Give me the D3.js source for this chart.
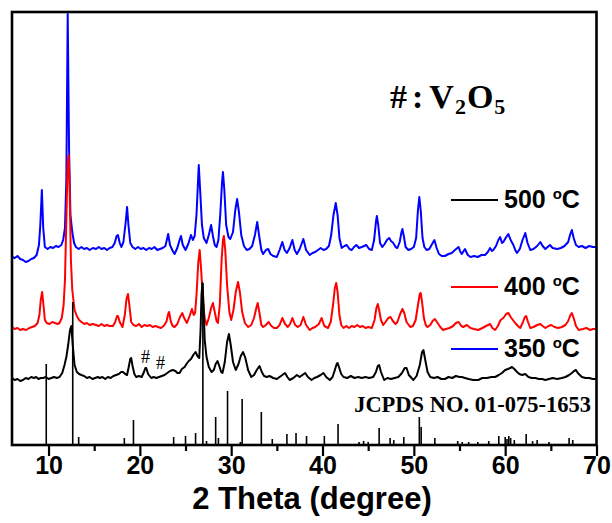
<!DOCTYPE html>
<html>
<head>
<meta charset="utf-8">
<script src="https://cdn.jsdelivr.net/npm/d3@7"></script>
<style>
  body { margin: 0; background: #fff; }
  svg { display: block; }
</style>
</head>
<body>
<div id="xrd-chart"></div>
<script>
// XRD patterns, [2theta, intensity (a.u., already offset)]
const pattern500 = [
  [6.0,188],[6.3,187],[6.6,189],[6.9,186],[7.2,185],[7.5,183],[7.8,184],[8.1,186],[8.4,187],[8.7,190],
  [8.95,200],[9.1,220],[9.27,255],[9.42,217],[9.6,198],[9.9,196],[10.2,198],[10.5,197],[10.8,199],[11.1,198],
  [11.4,200],[11.6,205],[11.8,217],[11.95,265],[12.1,431],[12.25,295],[12.4,230],[12.6,213],[12.8,202],[13.0,198],
  [13.3,196],[13.6,198],[13.9,196],[14.2,197],[14.5,195],[14.85,197],[15.2,196],[15.5,198],[15.8,196],[16.1,197],
  [16.4,195],[16.7,197],[17.0,198],[17.25,202],[17.45,209],[17.6,210],[17.8,202],[17.97,198],[18.2,203],[18.45,223],
  [18.6,238],[18.75,220],[18.95,202],[19.2,198],[19.5,196],[19.8,198],[20.1,196],[20.4,197],[20.7,195],[21.0,197],
  [21.3,196],[21.6,198],[21.9,195],[22.2,196],[22.5,197],[22.8,199],[23.0,207],[23.1,211],[23.3,200],[23.6,194],
  [23.8,191],[24.1,197],[24.35,205],[24.5,209],[24.7,200],[25.0,195],[25.3,201],[25.6,210],[25.8,205],[26.0,209],
  [26.2,230],[26.35,260],[26.45,280],[26.6,255],[26.8,220],[27.0,207],[27.3,202],[27.55,210],[27.8,220],[28.0,209],
  [28.2,200],[28.4,198],[28.6,205],[28.8,230],[29.0,263],[29.1,273],[29.25,255],[29.45,220],[29.7,208],[29.9,206],
  [30.2,213],[30.45,235],[30.65,246],[30.85,233],[31.1,210],[31.4,199],[31.7,195],[32.0,196],[32.3,199],[32.6,210],
  [32.85,223],[33.05,210],[33.3,195],[33.5,191],[33.8,195],[34.05,196],[34.3,191],[34.6,189],[35.0,188],[35.3,195],
  [35.6,203],[35.85,195],[36.1,192],[36.4,197],[36.7,205],[36.95,195],[37.2,191],[37.5,196],[37.9,206],[38.2,195],
  [38.6,190],[38.9,192],[39.2,193],[39.5,195],[39.8,197],[40.1,195],[40.4,196],[40.7,199],[40.95,210],[41.2,230],
  [41.45,242],[41.65,230],[41.85,207],[42.1,197],[42.4,199],[42.65,200],[42.95,196],[43.2,195],[43.45,198],[43.7,200],
  [44.0,197],[44.3,198],[44.55,199],[44.8,200],[45.1,196],[45.4,195],[45.65,205],[45.85,223],[45.95,229],[46.1,220],
  [46.3,202],[46.55,198],[46.8,201],[47.05,205],[47.3,207],[47.5,204],[47.75,202],[48.0,198],[48.2,197],[48.45,203],
  [48.65,213],[48.75,216],[48.9,209],[49.1,198],[49.4,195],[49.7,196],[50.0,198],[50.25,207],[50.45,235],[50.6,248],
  [50.75,235],[50.95,207],[51.15,198],[51.4,195],[51.7,196],[52.0,201],[52.25,205],[52.5,197],[52.75,191],[53.05,189],
  [53.4,189],[53.8,191],[54.15,192],[54.5,195],[54.9,198],[55.1,193],[55.25,191],[55.45,194],[55.6,196],[55.9,190],
  [56.2,188],[56.6,189],[57.0,188],[57.4,190],[57.8,190],[58.1,193],[58.35,197],[58.55,194],[58.7,195],[59.0,199],
  [59.25,205],[59.45,208],[59.65,202],[59.8,203],[60.05,207],[60.35,211],[60.6,205],[60.9,200],[61.1,195],[61.3,192],
  [61.6,196],[61.9,205],[62.2,212],[62.45,202],[62.75,195],[63.1,196],[63.5,199],[63.85,203],[64.1,199],[64.4,196],
  [64.65,198],[64.9,200],[65.2,197],[65.7,196],[66.1,197],[66.5,199],[66.9,203],[67.1,210],[67.3,215],[67.5,207],
  [67.75,200],[68.05,198],[68.4,199],[68.8,197],[69.2,199],[69.6,198],[70.0,198]
];

const pattern400 = [
  [6.0,118],[6.3,116],[6.6,117],[6.9,115],[7.2,116],[7.55,115],[7.9,117],[8.2,118],[8.5,119],[8.8,122],
  [9.0,130],[9.15,145],[9.3,153],[9.45,140],[9.6,125],[9.8,122],[10.1,121],[10.4,123],[10.7,122],[11.0,121],
  [11.2,122],[11.45,127],[11.65,140],[11.8,165],[11.95,225],[12.1,285],[12.2,290],[12.3,260],[12.45,185],[12.6,155],
  [12.85,135],[13.1,129],[13.35,125],[13.6,123],[13.9,121],[14.2,122],[14.5,120],[14.85,121],[15.2,120],[15.5,119],
  [15.8,121],[16.1,119],[16.4,120],[16.7,119],[17.05,119],[17.3,123],[17.5,129],[17.6,129],[17.8,123],[18.1,118],
  [18.35,130],[18.55,147],[18.7,151],[18.85,140],[19.05,123],[19.3,120],[19.6,119],[19.9,121],[20.2,118],[20.5,120],
  [20.8,119],[21.1,120],[21.4,118],[21.7,119],[22.0,118],[22.3,117],[22.6,119],[22.9,123],[23.1,131],[23.2,133],
  [23.4,123],[23.6,119],[23.8,118],[24.1,121],[24.4,128],[24.65,132],[24.85,127],[25.15,122],[25.45,129],[25.7,136],
  [25.9,130],[26.05,132],[26.2,150],[26.4,183],[26.55,195],[26.7,177],[26.9,145],[27.1,127],[27.3,120],[27.55,127],
  [27.8,137],[28.0,142],[28.2,133],[28.4,124],[28.55,122],[28.75,140],[28.95,185],[29.1,205],[29.2,209],[29.35,195],
  [29.55,160],[29.8,133],[30.0,125],[30.25,135],[30.5,153],[30.75,163],[30.95,153],[31.2,133],[31.5,122],[31.85,118],
  [32.2,120],[32.5,127],[32.75,137],[32.9,142],[33.1,132],[33.3,120],[33.5,118],[33.8,120],[34.1,123],[34.4,119],
  [34.7,117],[35.0,117],[35.3,120],[35.6,127],[35.9,121],[36.2,118],[36.45,121],[36.7,127],[37.0,120],[37.3,118],
  [37.6,120],[37.9,128],[38.2,120],[38.6,115],[38.9,117],[39.2,118],[39.6,121],[39.9,127],[40.2,119],[40.6,117],
  [40.9,123],[41.15,140],[41.35,157],[41.5,162],[41.65,153],[41.85,130],[42.05,120],[42.3,117],[42.6,119],[42.9,117],
  [43.2,119],[43.5,118],[43.8,120],[44.1,118],[44.4,119],[44.7,117],[45.0,118],[45.4,117],[45.7,125],[45.9,137],
  [46.05,141],[46.2,135],[46.4,125],[46.65,120],[46.9,123],[47.2,127],[47.45,128],[47.7,124],[48.0,121],[48.2,123],
  [48.5,131],[48.75,136],[48.95,132],[49.2,123],[49.6,118],[49.9,119],[50.2,125],[50.45,140],[50.65,151],[50.75,152],
  [50.9,143],[51.1,127],[51.3,120],[51.5,118],[51.8,120],[52.05,124],[52.3,126],[52.6,122],[52.9,118],[53.2,115],
  [53.5,116],[53.9,117],[54.3,119],[54.6,122],[54.9,123],[55.2,119],[55.4,118],[55.8,120],[56.2,117],[56.6,116],
  [57.05,115],[57.5,117],[57.9,119],[58.35,121],[58.6,117],[58.9,115],[59.2,119],[59.5,125],[59.8,127],[60.1,131],
  [60.35,132],[60.6,128],[60.85,125],[61.1,122],[61.4,119],[61.65,117],[61.95,123],[62.15,128],[62.3,129],[62.5,123],
  [62.75,117],[63.1,118],[63.5,120],[63.85,121],[64.1,119],[64.4,117],[64.75,119],[65.05,120],[65.4,118],[65.8,117],
  [66.2,118],[66.6,120],[66.9,124],[67.1,129],[67.3,132],[67.5,127],[67.75,119],[68.05,115],[68.5,116],[68.9,117],
  [69.3,115],[69.6,116],[70.0,116]
];

const pattern350 = [
  [6.0,67],[6.3,65],[6.6,66],[6.9,64],[7.2,65],[7.5,67],[7.8,66],[8.1,68],[8.4,67],[8.65,68],
  [8.9,66],[9.15,67],[9.4,67],[9.7,68],[10.0,66],[10.3,67],[10.6,68],[10.9,67],[11.2,68],[11.5,72],
  [11.75,80],[11.95,88],[12.15,100],[12.35,115],[12.5,119],[12.65,100],[12.85,80],[13.1,73],[13.35,71],[13.6,70],
  [13.9,69],[14.2,67],[14.5,68],[14.8,66],[15.1,67],[15.4,68],[15.6,67],[15.9,68],[16.2,66],[16.5,68],
  [16.8,67],[17.1,69],[17.4,70],[17.7,71],[17.95,73],[18.15,73],[18.4,71],[18.6,70],[18.8,79],[18.95,86],
  [19.05,87],[19.2,79],[19.4,71],[19.6,68],[19.9,69],[20.2,68],[20.45,73],[20.6,77],[20.7,77],[20.9,71],
  [21.25,67],[21.5,68],[21.8,67],[22.1,68],[22.4,69],[22.7,70],[23.0,72],[23.3,74],[23.6,75],[23.9,74],
  [24.1,72],[24.35,72],[24.6,76],[24.9,78],[25.1,81],[25.35,84],[25.6,86],[25.85,90],[26.1,93],[26.3,89],
  [26.5,87],[26.65,115],[26.75,150],[26.85,162],[26.95,145],[27.1,105],[27.3,88],[27.55,78],[27.85,73],[28.1,75],
  [28.3,81],[28.5,84],[28.7,79],[28.9,73],[29.05,72],[29.3,83],[29.55,103],[29.75,111],[29.95,100],[30.2,83],
  [30.5,75],[30.8,81],[31.05,89],[31.3,93],[31.55,87],[31.85,75],[32.2,68],[32.5,70],[32.8,75],[33.1,79],
  [33.35,73],[33.6,69],[33.9,68],[34.2,69],[34.6,67],[35.0,66],[35.3,68],[35.6,70],[35.9,72],[36.15,68],
  [36.4,65],[36.8,67],[37.2,70],[37.5,68],[37.8,70],[38.1,72],[38.4,68],[38.8,65],[39.1,67],[39.4,68],
  [39.8,70],[40.1,72],[40.4,68],[40.8,65],[41.1,68],[41.35,75],[41.55,81],[41.65,82],[41.8,78],[42.05,71],
  [42.3,68],[42.7,67],[43.1,69],[43.5,67],[43.9,68],[44.3,67],[44.7,68],[45.1,67],[45.55,68],[45.85,73],
  [46.05,79],[46.2,80],[46.4,73],[46.75,65],[47.1,67],[47.5,66],[47.9,67],[48.3,68],[48.7,72],[49.0,77],
  [49.2,77],[49.45,70],[49.95,65],[50.3,69],[50.65,80],[50.9,93],[51.05,95],[51.25,85],[51.5,73],[51.8,68],
  [52.2,67],[52.6,68],[53.0,66],[53.4,66],[53.8,68],[54.2,67],[54.6,69],[55.0,68],[55.25,68],[55.6,67],
  [56.0,66],[56.5,65],[57.05,65],[57.5,67],[58.0,67],[58.5,68],[58.9,68],[59.3,70],[59.65,72],[60.0,75],
  [60.3,76],[60.55,77],[60.75,78],[61.0,76],[61.3,73],[61.55,71],[61.85,70],[62.2,71],[62.55,68],[62.9,67],
  [63.3,67],[63.7,66],[64.05,66],[64.4,65],[64.8,66],[65.2,67],[65.7,66],[66.2,67],[66.6,68],[67.0,70],
  [67.3,72],[67.55,74],[67.75,75],[67.95,72],[68.4,68],[68.8,67],[69.2,67],[69.6,66],[70.0,66]
];

// JCPDS 01-075-1653 reference lines, [2theta, relative intensity]
const referenceLines = [
  [9.75,81],[12.65,143],[13.3,8],[18.3,7],[19.3,25],[23.7,8],[25.0,9],[26.1,12],[26.9,162],[27.3,4],
  [28.3,28],[28.6,7],[29.6,54],[31.0,3],[31.2,46],[33.3,33],[34.5,6],[36.1,11],[37.1,12],[38.25,9],
  [40.2,9],[41.7,21],[44.0,3],[44.5,4],[45.0,3],[46.2,17],[47.4,7],[47.8,5],[48.9,8],[50.6,28],
  [50.8,18],[52.3,7],[54.8,4],[55.3,3],[56.0,3],[57.0,3],[58.2,4],[59.3,9],[60.0,8],[60.2,6],
  [60.4,9],[60.6,7],[61.0,5],[62.3,11],[63.0,4],[63.5,5],[64.8,3],[67.0,7],[67.4,5]
];

const majorTicks = [10, 20, 30, 40, 50, 60, 70];
const minorTicks = [15, 25, 35, 45, 55, 65];

// legend as printed in the figure (line colours kept as in the original)
const legendLabels = ["500", "400", "350"];
const legendColours = ["#000000", "#ff0000", "#0000ff"];

const drawChart = () => {

  /*******************************/
  /*    Declare the constants    */
  /*******************************/
  const width = 612;
  const height = 523;
  const plot = {left: 12, right: 596.5, top: 12, bottom: 445};
  const sansFont = "'Liberation Sans', Arial, sans-serif";
  const serifFont = "'Liberation Serif', 'Times New Roman', serif";

  const svg = d3.select("#xrd-chart")
    .append("svg")
      .attr("width", width)
      .attr("height", height)
      .attr("viewBox", `0, 0, ${width}, ${height}`);

  /****************************/
  /*    Declare the scales    */
  /****************************/
  const xScale = d3.scaleLinear()
    .domain([6, 70])
    .range([plot.left, plot.right]);

  const yScale = d3.scaleLinear()
    .domain([0, 433])
    .range([plot.bottom, plot.top]);

  /****************************/
  /*    Patterns and sticks   */
  /****************************/
  const lineGenerator = d3.line()
    .x(d => xScale(d[0]))
    .y(d => yScale(d[1]));

  const series = [
    {data: pattern500, colour: "#0000ff"},
    {data: pattern400, colour: "#ff0000"},
    {data: pattern350, colour: "#000000"}
  ];

  svg.selectAll(".pattern")
    .data(series)
    .join("path")
      .attr("class", "pattern")
      .attr("d", d => lineGenerator(d.data))
      .attr("fill", "none")
      .attr("stroke", d => d.colour)
      .attr("stroke-width", 2)
      .attr("stroke-linejoin", "round");

  svg.selectAll(".stick")
    .data(referenceLines)
    .join("line")
      .attr("class", "stick")
      .attr("x1", d => xScale(d[0]))
      .attr("x2", d => xScale(d[0]))
      .attr("y1", yScale(0))
      .attr("y2", d => yScale(d[1]))
      .attr("stroke", "#000")
      .attr("stroke-width", 1.6);

  /***************************/
  /*     Frame and axes      */
  /***************************/
  svg.append("rect")
    .attr("x", plot.left)
    .attr("y", plot.top)
    .attr("width", plot.right - plot.left)
    .attr("height", plot.bottom - plot.top)
    .attr("fill", "none")
    .attr("stroke", "#000")
    .attr("stroke-width", 2.6);

  const bottomAxis = d3.axisBottom(xScale)
    .tickValues(majorTicks)
    .tickSize(11)
    .tickPadding(2);
  const axisX = svg.append("g")
    .attr("class", "axis-x")
    .attr("transform", `translate(0, ${plot.bottom})`)
    .call(bottomAxis);
  axisX.select(".domain").remove();
  axisX.selectAll("line").attr("stroke-width", 2.2);
  axisX.selectAll("text")
    .attr("y", 11)
    .style("font-family", sansFont)
    .style("font-weight", "bold")
    .style("font-size", "25px")
    .attr("fill", "#000");

  const minorAxis = d3.axisBottom(xScale)
    .tickValues(minorTicks)
    .tickSize(6)
    .tickFormat("");
  const axisMinor = svg.append("g")
    .attr("transform", `translate(0, ${plot.bottom})`)
    .call(minorAxis);
  axisMinor.select(".domain").remove();
  axisMinor.selectAll("line").attr("stroke-width", 2.2);

  svg.append("text")
    .text("2 Theta (degree)")
    .attr("x", 312)
    .attr("y", 509)
    .attr("text-anchor", "middle")
    .style("font-family", sansFont)
    .style("font-weight", "bold")
    .style("font-size", "31px");

  /***************************/
  /*         Legend          */
  /***************************/
  const legendY = [200, 287, 349];
  const legend = svg.selectAll(".legend")
    .data(legendLabels)
    .join("g")
      .attr("class", "legend")
      .attr("transform", (d, i) => `translate(451, ${legendY[i]})`);
  legend.append("line")
    .attr("x1", 0)
    .attr("x2", 47)
    .attr("stroke", (d, i) => legendColours[i])
    .attr("stroke-width", 2);
  const legendText = legend.append("text")
    .attr("x", 53)
    .attr("y", 8)
    .style("font-family", sansFont)
    .style("font-weight", "bold")
    .style("font-size", "25px");
  legendText.append("tspan").text(d => d + " ");
  legendText.append("tspan").text("o")
    .attr("dy", -9)
    .style("font-size", "15px");
  legendText.append("tspan").text("C")
    .attr("dy", 9);

  /***************************/
  /*       Annotations       */
  /***************************/
  const phase = svg.append("text")
    .attr("x", 390)
    .attr("y", 108)
    .style("font-family", serifFont)
    .style("font-weight", "bold")
    .style("font-size", "34px")
    .style("letter-spacing", "1px");
  phase.append("tspan").text("#");
  phase.append("tspan").text(":").attr("dx", 4);
  phase.append("tspan").text("V").attr("dx", 5);
  phase.append("tspan").text("2").attr("dy", 6).style("font-size", "22px");
  phase.append("tspan").text("O").attr("dy", -6);
  phase.append("tspan").text("5").attr("dy", 6).style("font-size", "22px");

  svg.append("text")
    .text("JCPDS NO. 01-075-1653")
    .attr("x", 591)
    .attr("y", 412)
    .attr("text-anchor", "end")
    .style("font-family", serifFont)
    .style("font-weight", "bold")
    .style("font-size", "22.5px");

  // V2O5 impurity marks on the 350 °C pattern
  svg.append("text").text("#")
    .attr("x", 141).attr("y", 363)
    .style("font-family", serifFont).style("font-size", "18px");
  svg.append("text").text("#")
    .attr("x", 156).attr("y", 369)
    .style("font-family", serifFont).style("font-size", "18px");
};

drawChart();
</script>
</body>
</html>
